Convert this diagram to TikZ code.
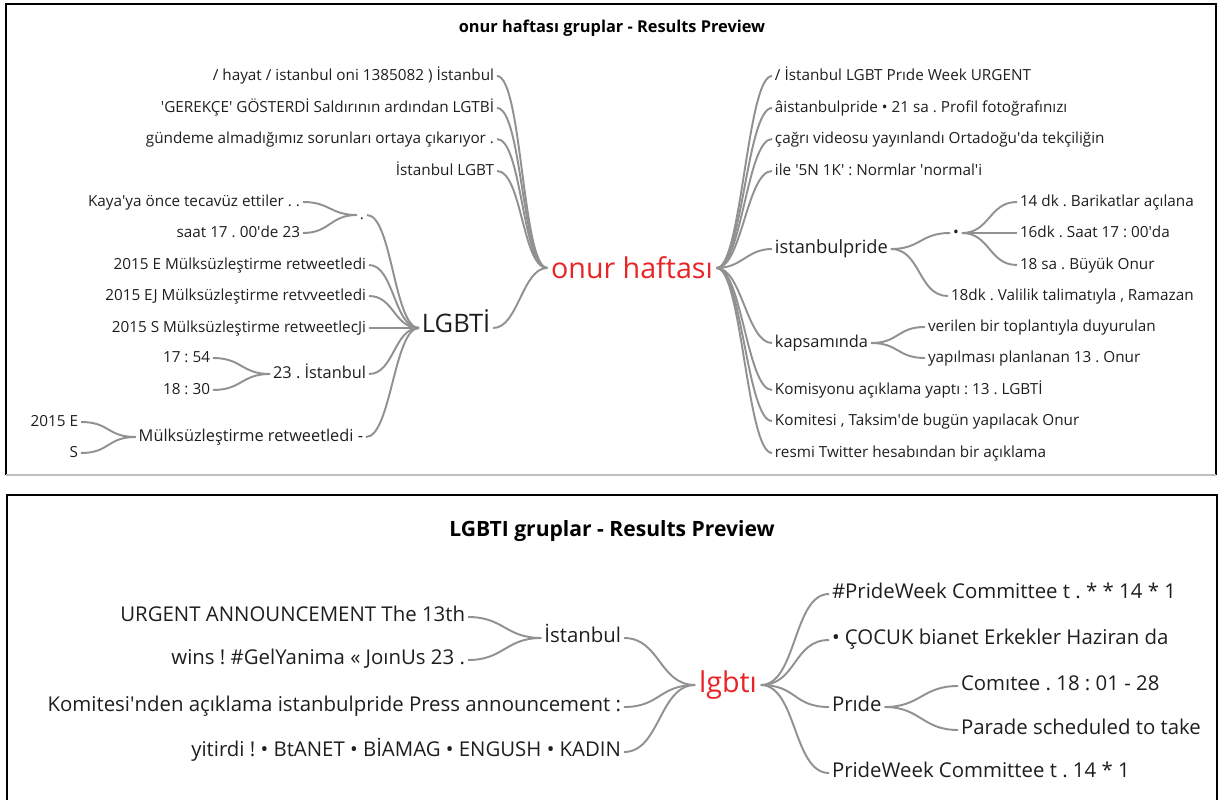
\documentclass[tikz,border=0pt]{standalone}
\usepackage{fontspec}
\setmainfont{Open Sans}
\definecolor{twiggray}{RGB}{145,145,145}
\definecolor{inkgray}{RGB}{30,30,30}
\definecolor{rootred}{RGB}{232,36,38}
\def\ap{\textquotesingle}
\def\twig#1(#2)(#3){\draw[twig] (#2) .. controls +(#1,0) and +(-#1,0) .. (#3);}
\tikzset{
	twig/.style={draw=twiggray, line width=1.1pt},
	panel/.style={draw=black, line width=1pt},
	leaf/.style={text=inkgray, inner sep=1.5pt, text height=0.75em, text depth=0.22em, font=\fontsize{8.7}{10}\selectfont},
	bigleaf/.style={leaf, font=\fontsize{11.6}{13}\selectfont},
	root/.style={text=rootred, inner sep=2pt, font=\fontsize{16.3}{18}\selectfont},
	heading/.style={text=black, font=\bfseries\fontsize{9.3}{11}\selectfont}
}

\begin{document}
\frenchspacing
\begin{tikzpicture}[x=0.02cm, y=-0.02cm]
				%%%%% START %%%%%
				\useasboundingbox (0,0) rectangle (1226,800);

				% upper panel
				\draw[panel] (6,475) -- (6,4) -- (1216,4) -- (1216,475);
				\draw[draw=black!25, line width=1pt] (6,475) -- (1216,475);
				\node[heading] (title1) at (612,28) {onur haftası gruplar - Results Preview};

				\node[root] (onur) at (632,268) {onur haftası};

				\node[leaf, anchor=east] (hayat) at (497,76) {/ hayat / istanbul oni 1385082 ) İstanbul};
				\node[leaf, anchor=east] (gerekce) at (497,108) {\ap{}GEREKÇE\ap{} GÖSTERDİ Saldırının ardından LGTBİ};
				\node[leaf, anchor=east] (gundem) at (497,139) {gündeme almadığımız sorunları ortaya çıkarıyor .};
				\node[leaf, anchor=east] (istlgbt) at (497,171) {İstanbul LGBT};
				\node[leaf, anchor=west, font=\fontsize{14.5}{16}\selectfont] (lgbti) at (419,328) {LGBTİ};

				\node[leaf] (dot) at (362,215) {.};
				\node[leaf, anchor=east] (kaya) at (303,202) {Kaya\ap{}ya önce tecavüz ettiler . .};
				\node[leaf, anchor=east] (saat) at (303,233) {saat 17 . 00\ap{}de 23};
				\node[leaf, anchor=east] (e2015) at (369,265) {2015 E Mülksüzleştirme retweetledi};
				\node[leaf, anchor=east] (ej2015) at (369,296) {2015 EJ Mülksüzleştirme retvveetledi};
				\node[leaf, anchor=east] (s2015) at (369,328) {2015 S Mülksüzleştirme retweetlecJi};
				\node[leaf, anchor=east, font=\fontsize{9.3}{11}\selectfont] (ist23) at (369,374) {23 . İstanbul};
				\node[leaf, anchor=east] (t1754) at (213,358) {17 : 54};
				\node[leaf, anchor=east] (t1830) at (213,390) {18 : 30};
				\node[leaf, anchor=east, font=\fontsize{9.3}{11}\selectfont] (mulk) at (366,437) {Mülksüzleştirme retweetledi -};
				\node[leaf, anchor=east] (e2015b) at (81,422) {2015 E};
				\node[leaf, anchor=east] (sb) at (81,453) {S};

				\node[leaf, anchor=west] (prideweek) at (772,76) {/ İstanbul LGBT Prıde Week URGENT};
				\node[leaf, anchor=west] (profil) at (772,108) {âistanbulpride • 21 sa . Profil fotoğrafınızı};
				\node[leaf, anchor=west] (cagri) at (772,139) {çağrı videosu yayınlandı Ortadoğu\ap{}da tekçiliğin};
				\node[leaf, anchor=west] (normlar) at (772,171) {ile \ap{}5N 1K\ap{} : Normlar \ap{}normal\ap{}i};
				\node[leaf, anchor=west, font=\fontsize{10.4}{12}\selectfont] (ipride) at (772,249) {istanbulpride};
				\node[leaf] (bullet) at (956,233) {•};
				\node[leaf, anchor=west] (dk14) at (1017,202) {14 dk . Barikatlar açılana};
				\node[leaf, anchor=west] (dk16) at (1017,233) {16dk . Saat 17 : 00\ap{}da};
				\node[leaf, anchor=west] (sa18) at (1017,265) {18 sa . Büyük Onur};
				\node[leaf, anchor=west] (dk18) at (948,296) {18dk . Valilik talimatıyla , Ramazan};
				\node[leaf, anchor=west, font=\fontsize{9.3}{11}\selectfont] (kapsam) at (772,343) {kapsamında};
				\node[leaf, anchor=west] (verilen) at (925,327) {verilen bir toplantıyla duyurulan};
				\node[leaf, anchor=west] (yapil) at (925,358) {yapılması planlanan 13 . Onur};
				\node[leaf, anchor=west] (komis) at (772,390) {Komisyonu açıklama yaptı : 13 . LGBTİ};
				\node[leaf, anchor=west] (komite) at (772,421) {Komitesi , Taksim\ap{}de bugün yapılacak Onur};
				\node[leaf, anchor=west] (resmi) at (772,453) {resmi Twitter hesabından bir açıklama};

				\twig{25}(hayat.east)(onur.west)
				\twig{25}(gerekce.east)(onur.west)
				\twig{25}(gundem.east)(onur.west)
				\twig{25}(istlgbt.east)(onur.west)
				\twig{25}(lgbti.east)(onur.west)
				\twig{27}(kaya.east)(dot.west)
				\twig{27}(saat.east)(dot.west)
				\twig{25}(dot.east)(lgbti.west)
				\twig{25}(e2015.east)(lgbti.west)
				\twig{25}(ej2015.east)(lgbti.west)
				\twig{25}(s2015.east)(lgbti.west)
				\twig{25}(ist23.east)(lgbti.west)
				\twig{25}(mulk.east)(lgbti.west)
				\twig{29}(t1754.east)(ist23.west)
				\twig{29}(t1830.east)(ist23.west)
				\twig{29}(e2015b.east)(mulk.west)
				\twig{29}(sb.east)(mulk.west)

				\twig{25}(onur.east)(prideweek.west)
				\twig{25}(onur.east)(profil.west)
				\twig{25}(onur.east)(cagri.west)
				\twig{25}(onur.east)(normlar.west)
				\twig{25}(onur.east)(ipride.west)
				\twig{25}(onur.east)(kapsam.west)
				\twig{25}(onur.east)(komis.west)
				\twig{25}(onur.east)(komite.west)
				\twig{25}(onur.east)(resmi.west)
				\twig{30}(ipride.east)(bullet.west)
				\twig{30}(ipride.east)(dk18.west)
				\twig{28}(bullet.east)(dk14.west)
				\twig{28}(bullet.east)(dk16.west)
				\twig{28}(bullet.east)(sa18.west)
				\twig{28}(kapsam.east)(verilen.west)
				\twig{28}(kapsam.east)(yapil.west)

				% lower panel
				\draw[panel] (7,801) -- (7,495) -- (1217,495) -- (1217,801);
				\node[heading, font=\bfseries\fontsize{12}{14}\selectfont] (title2) at (612,531) {LGBTI gruplar - Results Preview};

				\node[root] (lgbt) at (728,685) {lgbtı};

				\node[bigleaf, anchor=east] (istanbul) at (624,638) {İstanbul};
				\node[bigleaf, anchor=east] (urgent) at (468,617) {URGENT ANNOUNCEMENT The 13th};
				\node[bigleaf, anchor=east] (wins) at (468,660) {wins ! \#GelYanima « JoınUs 23 .};
				\node[bigleaf, anchor=east] (komitesi) at (624,707) {Komitesi\ap{}nden açıklama istanbulpride Press announcement :};
				\node[bigleaf, anchor=east] (yitirdi) at (624,752) {yitirdi ! • BtANET • BİAMAG • ENGUSH • KADIN};

				\node[bigleaf, anchor=west] (pw1) at (829,594) {\#PrideWeek Committee t . * * 14 * 1};
				\node[bigleaf, anchor=west] (cocuk) at (829,640) {• ÇOCUK bianet Erkekler Haziran da};
				\node[bigleaf, anchor=west] (pride) at (829,707) {Prıde};
				\node[bigleaf, anchor=west] (comitee) at (958,686) {Comıtee . 18 : 01 - 28};
				\node[bigleaf, anchor=west] (parade) at (958,730) {Parade scheduled to take};
				\node[bigleaf, anchor=west] (pw2) at (829,773) {PrideWeek Committee t . 14 * 1};

				\twig{36}(urgent.east)(istanbul.west)
				\twig{36}(wins.east)(istanbul.west)
				\twig{36}(istanbul.east)(lgbt.west)
				\twig{36}(komitesi.east)(lgbt.west)
				\twig{36}(yitirdi.east)(lgbt.west)
				\twig{36}(lgbt.east)(pw1.west)
				\twig{36}(lgbt.east)(cocuk.west)
				\twig{36}(lgbt.east)(pride.west)
				\twig{36}(lgbt.east)(pw2.west)
				\twig{36}(pride.east)(comitee.west)
				\twig{36}(pride.east)(parade.west)
				%%%%% END %%%%%
\end{tikzpicture}
\end{document}
